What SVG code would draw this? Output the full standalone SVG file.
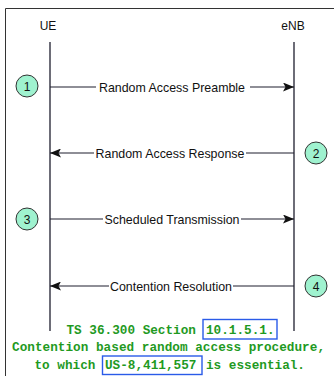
<svg xmlns="http://www.w3.org/2000/svg" width="334" height="376" viewBox="0 0 334 376">
<defs>
<style>
.frame{fill:none;stroke:#333;stroke-width:1}
.life{stroke:#1e1e2e;stroke-width:1.3}
.msg{stroke:#1e1e2e;stroke-width:1.2;fill:none}
.lbl{font-family:"Liberation Sans",Arial,sans-serif;font-size:12.4px;fill:#111;text-anchor:middle}
.hd{font-family:"Liberation Sans",Arial,sans-serif;font-size:12px;fill:#111;text-anchor:middle}
.bg{fill:#fff}
.num circle{fill:#9ff2cf;stroke:#333;stroke-width:1}
.num text{font-family:"Liberation Sans",Arial,sans-serif;font-size:12px;fill:#111;text-anchor:middle}
.note{font-family:"Liberation Mono","Courier New",monospace;font-weight:bold;font-size:12.7px;fill:#1f9a1f}
.box{fill:none;stroke:#2a5be8;stroke-width:1.4}
</style>
<marker id="ah" markerWidth="11" markerHeight="9" refX="11" refY="4.5" orient="auto" markerUnits="userSpaceOnUse">
<path d="M0,0 L11,4.5 L0,9 L2.5,4.5 Z" fill="#111"/>
</marker>
</defs>
<rect width="334" height="376" fill="#fff"/>
<path class="frame" d="M5.5,376 V8.5 H334"/>
<g id="UE">
<text class="hd" x="48" y="30">UE</text>
<line class="life" x1="50" y1="42" x2="50" y2="331"/>
</g>
<g id="eNB">
<text class="hd" x="293" y="30">eNB</text>
<line class="life" x1="294" y1="42" x2="294" y2="331"/>
</g>
<g id="connectors">
<line class="msg" x1="50" y1="87" x2="294" y2="87" marker-end="url(#ah)"/>
<rect class="bg" x="96" y="80" width="154" height="14"/>
<text class="lbl" x="172" y="91.5">Random Access Preamble</text>
<line class="msg" x1="294" y1="153" x2="50" y2="153" marker-end="url(#ah)"/>
<rect class="bg" x="94" y="146" width="152" height="14"/>
<text class="lbl" x="170" y="157.5">Random Access Response</text>
<line class="msg" x1="50" y1="219" x2="294" y2="219" marker-end="url(#ah)"/>
<rect class="bg" x="103" y="212" width="138" height="14"/>
<text class="lbl" x="172" y="223.5">Scheduled Transmission</text>
<line class="msg" x1="294" y1="286" x2="50" y2="286" marker-end="url(#ah)"/>
<rect class="bg" x="109" y="279" width="124" height="14"/>
<text class="lbl" x="171" y="290.5">Contention Resolution</text>
</g>
<g id="step1" class="num"><circle cx="27" cy="86" r="11"/><text x="27" y="90.5">1</text></g>
<g id="step2" class="num"><circle cx="316" cy="153" r="11"/><text x="316" y="157.5">2</text></g>
<g id="step3" class="num"><circle cx="27" cy="219" r="11"/><text x="27" y="223.5">3</text></g>
<g id="step4" class="num"><circle cx="316" cy="286" r="11"/><text x="316" y="290.5">4</text></g>
<g id="note">
<rect class="box" x="203" y="319.5" width="74" height="19.5"/>
<rect class="box" x="102.5" y="356" width="99.5" height="18.5"/>
<text class="note" y="334"><tspan x="66.5">TS 36.300 Section</tspan><tspan x="206">10.1.5.1.</tspan></text>
<text class="note" x="12" y="351" textLength="313" lengthAdjust="spacing">Contention based random access procedure,</text>
<text class="note" y="369"><tspan x="34.5">to which</tspan><tspan x="105">US-8,411,557</tspan><tspan x="206">is essential.</tspan></text>
</g>
</svg>
